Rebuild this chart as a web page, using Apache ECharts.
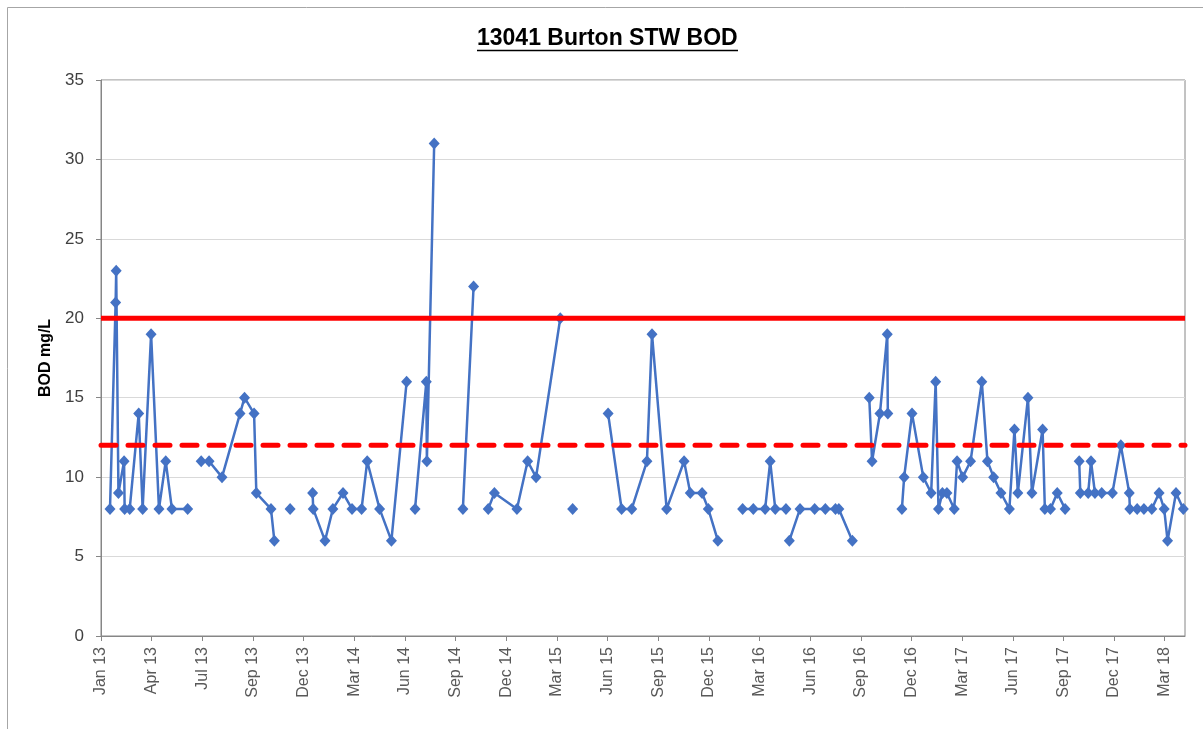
<!DOCTYPE html>
<html>
<head>
<meta charset="utf-8">
<title>13041 Burton STW BOD</title>
<script src="https://cdn.jsdelivr.net/npm/echarts@6/dist/echarts.min.js"></script>
<style>
  html, body { margin: 0; padding: 0; background: #fff; }
  #chart { width: 1203px; height: 729px; }
</style>
</head>
<body>
<div id="chart"></div>
<script>
// days counted from 2 Jan 2013 (first tick); a null value breaks the line
const sampleDays = [
  16, 26, 27, 31, 41, 42, 51, 67, 74, 89, 103, 115, 126, 154, 166,
  178, 192, 215, 247, 255, 272, 276, 302, 308, 322,
  336, 356,
  376, 377, 398, 412, 430, 446, 463, 473, 495, 516, 543, 550,
  558, 578, 579, 592, 615,
  643, 662, 675,
  688, 699, 739, 758, 773, 816, 827,
  838, 870,
  901, 925, 943, 970, 979, 1005, 1036, 1047, 1068, 1079, 1096, 1118,
  1140, 1159, 1180, 1189, 1198, 1217, 1220,
  1223, 1242, 1268, 1287, 1305, 1311, 1335, 1350,
  1365, 1370, 1384, 1397, 1398, 1410,
  1423, 1427, 1441, 1461, 1475, 1483, 1488, 1495, 1503, 1516, 1521, 1531, 1545,
  1565, 1575, 1586, 1599, 1614, 1623, 1629, 1647, 1654, 1673, 1677, 1687, 1699, 1713, 1725,
  1738, 1740, 1754, 1759, 1766, 1778, 1797, 1812, 1827, 1828, 1841, 1853, 1867,
  1880, 1889, 1895, 1910, 1923
];
const bodValues = [
  8, 21, 23, 9, 11, 8, 8, 14, 8, 19, 8, 11, 8, 8, null,
  11, 11, 10, 14, 15, 14, 9, 8, 6, null,
  8, null,
  9, 8, 6, 8, 9, 8, 8, 11, 8, 6, 16, null,
  8, 16, 11, 31, null,
  8, 22, null,
  8, 9, 8, 11, 10, 20, null,
  8, null,
  14, 8, 8, 11, 19, 8, 11, 9, 9, 8, 6, null,
  8, 8, 8, 11, 8, 8, null,
  6, 8, 8, 8, 8, 8, 6, null,
  15, 11, 14, 19, 14, null,
  8, 10, 14, 10, 9, 16, 8, 9, 9, 8, 11, 10, 11,
  16, 11, 10, 9, 8, 13, 9, 15, 9, 13, 8, 8, 9, 8, null,
  11, 9, 9, 11, 9, 9, 9, 12, 9, 8, 8, 8, 8,
  9, 8, 6, 9, 8
];
const upperLimit = 20;
const lowerLimit = 12;

const tickLabels = [
  'Jan 13', 'Apr 13', 'Jul 13', 'Sep 13', 'Dec 13', 'Mar 14', 'Jun 14', 'Sep 14',
  'Dec 14', 'Mar 15', 'Jun 15', 'Sep 15', 'Dec 15', 'Mar 16', 'Jun 16', 'Sep 16',
  'Dec 16', 'Mar 17', 'Jun 17', 'Sep 17', 'Dec 17', 'Mar 18'
];
const tickStep = 90;
const axisEndDay = 1926;
const tickDays = tickLabels.map((_, i) => i * tickStep);

const bodData = sampleDays.map((d, i) => [d, bodValues[i] == null ? '-' : bodValues[i]]);
const font = 'Liberation Sans, Arial, sans-serif';

const chart = echarts.init(document.getElementById('chart'));
chart.setOption({
  animation: false,
  backgroundColor: '#fff',
  title: {
    text: '13041 Burton STW BOD',
    left: 477,
    top: 27,
    padding: 0,
    textStyle: { fontFamily: font, fontSize: 23, fontWeight: 'bold', color: '#000' }
  },
  graphic: [
    {
      type: 'rect',
      shape: { x: 7.5, y: 7.5, width: 1400, height: 900 },
      style: { fill: 'none', stroke: '#a6a6a6', lineWidth: 1 },
      silent: true
    },
    {
      type: 'line',
      shape: { x1: 477, y1: 50.5, x2: 738, y2: 50.5 },
      style: { stroke: '#000', lineWidth: 1.5 },
      silent: true
    }
  ],
  grid: {
    left: 101, right: 18, top: 80, bottom: 93,
    containLabel: false,
    show: true,
    borderColor: '#868686',
    borderWidth: 1
  },
  xAxis: {
    type: 'value',
    min: 0,
    max: axisEndDay,
    interval: tickStep,
    splitLine: { show: false },
    axisLine: { lineStyle: { color: '#868686', width: 1 } },
    axisTick: {
      length: 5,
      customValues: tickDays,
      lineStyle: { color: '#868686' }
    },
    axisLabel: {
      rotate: 90,
      margin: 11,
      customValues: tickDays,
      fontFamily: font,
      fontSize: 16,
      color: '#595959',
      formatter: v => tickLabels[Math.round(v / tickStep)] || ''
    }
  },
  yAxis: {
    type: 'value',
    min: 0,
    max: 35,
    interval: 5,
    name: 'BOD mg/L',
    nameLocation: 'middle',
    nameGap: 47,
    nameTextStyle: { fontFamily: font, fontSize: 16, fontWeight: 'bold', color: '#000' },
    axisLine: { show: true, lineStyle: { color: '#868686', width: 1 } },
    axisTick: { show: true, length: 5, lineStyle: { color: '#868686' } },
    axisLabel: { margin: 17, fontFamily: font, fontSize: 17, color: '#404040' },
    splitLine: { lineStyle: { color: '#d9d9d9', width: 1 } }
  },
  series: [
    {
      name: 'BOD',
      type: 'line',
      data: bodData,
      connectNulls: false,
      symbol: 'diamond',
      symbolSize: [11, 12],
      showAllSymbol: true,
      itemStyle: { color: '#4472c4' },
      lineStyle: { color: '#4472c4', width: 2.5 },
      z: 2
    },
    {
      name: 'Upper limit',
      type: 'line',
      data: [[0, upperLimit], [axisEndDay, upperLimit]],
      symbol: 'none',
      lineStyle: { color: '#ff0000', width: 5 },
      z: 3
    },
    {
      name: 'Lower limit',
      type: 'line',
      data: [[0, lowerLimit], [axisEndDay, lowerLimit]],
      symbol: 'none',
      lineStyle: { color: '#ff0000', width: 5, type: [15, 12], cap: 'round' },
      z: 3
    }
  ]
});
</script>
</body>
</html>
